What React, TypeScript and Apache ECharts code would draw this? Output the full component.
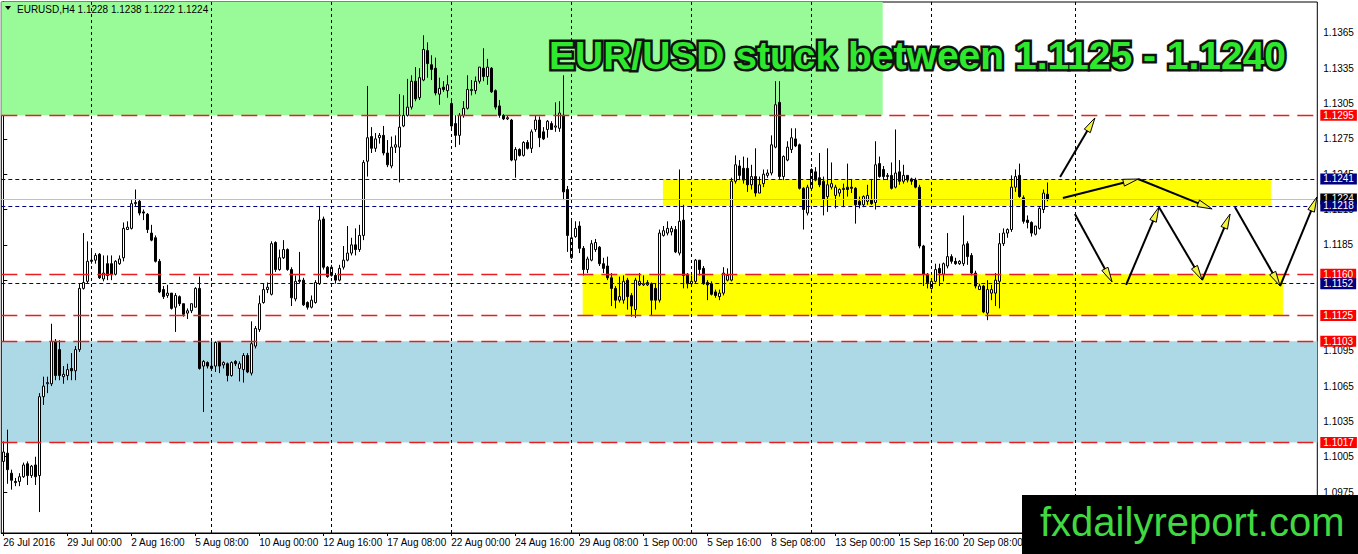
import React, { useEffect, useRef } from "react";
import * as echarts from "echarts";

// EURUSD H4 bars, 26 Jul 2016 08:00 .. 23 Sep 2016 20:00
const opens = [
  1.1001, 1.1008, 1.0991, 1.0984, 1.0984, 1.0988, 1.0999, 1.0989, 1.0998, 1.0989,
  1.1056, 1.1067, 1.1067, 1.1103, 1.1096, 1.1073, 1.1074, 1.1080, 1.1078, 1.1096,
  1.1148, 1.1154, 1.1171, 1.1172, 1.1177, 1.1156, 1.1169, 1.1169, 1.1160, 1.1169,
  1.1174, 1.1198, 1.1199, 1.1220, 1.1222, 1.1213, 1.1211, 1.1195, 1.1191, 1.1171,
  1.1147, 1.1142, 1.1144, 1.1132, 1.1141, 1.1135, 1.1127, 1.1129, 1.1132, 1.1148,
  1.1082, 1.1085, 1.1082, 1.1082, 1.1102, 1.1083, 1.1084, 1.1074, 1.1086, 1.1080,
  1.1079, 1.1091, 1.1076, 1.1099, 1.1113, 1.1136, 1.1147, 1.1143, 1.1187, 1.1164,
  1.1174, 1.1181, 1.1164, 1.1139, 1.1155, 1.1155, 1.1136, 1.1132, 1.1136, 1.1152,
  1.1207, 1.1166, 1.1159, 1.1159, 1.1155, 1.1166, 1.1172, 1.1178, 1.1185, 1.1181,
  1.1193, 1.1256, 1.1277, 1.1267, 1.1276, 1.1278, 1.1263, 1.1252, 1.1268, 1.1268,
  1.1286, 1.1295, 1.1302, 1.1324, 1.1310, 1.1325, 1.1350, 1.1338, 1.1335, 1.1313,
  1.1319, 1.1316, 1.1305, 1.1288, 1.1278, 1.1295, 1.1301, 1.1316, 1.1316, 1.1324,
  1.1335, 1.1328, 1.1335, 1.1316, 1.1303, 1.1295, 1.1292, 1.1291, 1.1257, 1.1266,
  1.1261, 1.1272, 1.1267, 1.1283, 1.1291, 1.1281, 1.1283, 1.1288, 1.1285, 1.1284,
  1.1295, 1.1232, 1.1174, 1.1192, 1.1201, 1.1182, 1.1164, 1.1172, 1.1181, 1.1183,
  1.1169, 1.1167, 1.1157, 1.1148, 1.1138, 1.1138, 1.1155, 1.1142, 1.1130, 1.1151,
  1.1151, 1.1151, 1.1152, 1.1148, 1.1138, 1.1193, 1.1195, 1.1196, 1.1198, 1.1178,
  1.1206, 1.1160, 1.1152, 1.1154, 1.1172, 1.1165, 1.1153, 1.1152, 1.1145, 1.1141,
  1.1144, 1.1155, 1.1155, 1.1239, 1.1252, 1.1250, 1.1250, 1.1236, 1.1243, 1.1229,
  1.1237, 1.1244, 1.1246, 1.1268, 1.1306, 1.1243, 1.1257, 1.1266, 1.1275, 1.1270,
  1.1233, 1.1212, 1.1233, 1.1247, 1.1242, 1.1239, 1.1226, 1.1234, 1.1227, 1.1229,
  1.1232, 1.1234, 1.1234, 1.1233, 1.1222, 1.1219, 1.1222, 1.1223, 1.1221, 1.1254,
  1.1249, 1.1243, 1.1244, 1.1234, 1.1247, 1.1239, 1.1244, 1.1241, 1.1240, 1.1234,
  1.1184, 1.1160, 1.1148, 1.1154, 1.1165, 1.1160, 1.1167, 1.1175, 1.1171, 1.1169,
  1.1169, 1.1186, 1.1176, 1.1161, 1.1147, 1.1150, 1.1127, 1.1144, 1.1144, 1.1154,
  1.1186, 1.1195, 1.1198, 1.1234, 1.1244, 1.1225, 1.1206, 1.1204, 1.1194, 1.1199,
  1.1215, 1.1228,
];

const closes = [
  1.1009, 1.0994, 1.0985, 1.0983, 1.0988, 1.0998, 1.0989, 1.0997, 1.0988, 1.1056,
  1.1065, 1.1068, 1.1103, 1.1074, 1.1074, 1.1075, 1.1079, 1.1078, 1.1096, 1.1148,
  1.1153, 1.1171, 1.1172, 1.1176, 1.1157, 1.1161, 1.1159, 1.1160, 1.1171, 1.1173,
  1.1199, 1.1200, 1.1220, 1.1221, 1.1212, 1.1212, 1.1198, 1.1189, 1.1171, 1.1145,
  1.1141, 1.1144, 1.1131, 1.1142, 1.1135, 1.1126, 1.1129, 1.1135, 1.1148, 1.1080,
  1.1086, 1.1082, 1.1080, 1.1102, 1.1082, 1.1085, 1.1074, 1.1085, 1.1084, 1.1084,
  1.1091, 1.1077, 1.1101, 1.1114, 1.1135, 1.1147, 1.1149, 1.1186, 1.1164, 1.1174,
  1.1181, 1.1164, 1.1140, 1.1154, 1.1154, 1.1134, 1.1132, 1.1138, 1.1153, 1.1206,
  1.1166, 1.1158, 1.1166, 1.1155, 1.1165, 1.1172, 1.1178, 1.1185, 1.1181, 1.1193,
  1.1255, 1.1276, 1.1267, 1.1275, 1.1278, 1.1263, 1.1253, 1.1268, 1.1270, 1.1285,
  1.1295, 1.1302, 1.1324, 1.1309, 1.1327, 1.1351, 1.1339, 1.1334, 1.1314, 1.1318,
  1.1317, 1.1321, 1.1286, 1.1278, 1.1295, 1.1301, 1.1317, 1.1317, 1.1324, 1.1336,
  1.1328, 1.1336, 1.1315, 1.1302, 1.1295, 1.1292, 1.1293, 1.1257, 1.1266, 1.1261,
  1.1272, 1.1267, 1.1281, 1.1291, 1.1276, 1.1275, 1.1290, 1.1283, 1.1286, 1.1297,
  1.1230, 1.1193, 1.1191, 1.1199, 1.1182, 1.1164, 1.1173, 1.1186, 1.1187, 1.1169,
  1.1165, 1.1157, 1.1148, 1.1138, 1.1141, 1.1154, 1.1141, 1.1133, 1.1155, 1.1154,
  1.1152, 1.1153, 1.1138, 1.1138, 1.1195, 1.1197, 1.1199, 1.1199, 1.1179, 1.1205,
  1.1159, 1.1152, 1.1154, 1.1172, 1.1164, 1.1152, 1.1151, 1.1143, 1.1142, 1.1144,
  1.1161, 1.1159, 1.1239, 1.1253, 1.1244, 1.1240, 1.1236, 1.1243, 1.1229, 1.1236,
  1.1245, 1.1246, 1.1270, 1.1304, 1.1243, 1.1260, 1.1268, 1.1276, 1.1269, 1.1233,
  1.1215, 1.1234, 1.1249, 1.1240, 1.1236, 1.1224, 1.1236, 1.1237, 1.1234, 1.1232,
  1.1233, 1.1232, 1.1233, 1.1219, 1.1219, 1.1226, 1.1227, 1.1220, 1.1253, 1.1243,
  1.1243, 1.1244, 1.1233, 1.1246, 1.1239, 1.1244, 1.1240, 1.1239, 1.1234, 1.1184,
  1.1160, 1.1153, 1.1154, 1.1164, 1.1161, 1.1169, 1.1175, 1.1171, 1.1169, 1.1171,
  1.1185, 1.1175, 1.1161, 1.1150, 1.1150, 1.1128, 1.1147, 1.1147, 1.1155, 1.1186,
  1.1195, 1.1198, 1.1234, 1.1243, 1.1226, 1.1205, 1.1204, 1.1195, 1.1201, 1.1216,
  1.1229, 1.1224,
];

const lows = [
  1.0994, 1.0982, 1.0977, 1.0980, 1.0980, 1.0987, 1.0981, 1.0987, 1.0981, 1.0958,
  1.1049, 1.1059, 1.1065, 1.1070, 1.1070, 1.1067, 1.1070, 1.1070, 1.1070, 1.1094,
  1.1147, 1.1152, 1.1169, 1.1169, 1.1156, 1.1154, 1.1155, 1.1155, 1.1159, 1.1168,
  1.1171, 1.1198, 1.1198, 1.1218, 1.1210, 1.1206, 1.1195, 1.1188, 1.1170, 1.1144,
  1.1139, 1.1140, 1.1130, 1.1111, 1.1133, 1.1124, 1.1122, 1.1127, 1.1132, 1.1079,
  1.1043, 1.1080, 1.1079, 1.1077, 1.1076, 1.1080, 1.1069, 1.1073, 1.1082, 1.1069,
  1.1068, 1.1076, 1.1074, 1.1097, 1.1111, 1.1135, 1.1144, 1.1142, 1.1162, 1.1163,
  1.1173, 1.1163, 1.1133, 1.1137, 1.1152, 1.1133, 1.1130, 1.1131, 1.1135, 1.1151,
  1.1164, 1.1157, 1.1158, 1.1152, 1.1154, 1.1164, 1.1171, 1.1176, 1.1176, 1.1179,
  1.1189, 1.1243, 1.1263, 1.1264, 1.1271, 1.1261, 1.1251, 1.1250, 1.1263, 1.1238,
  1.1285, 1.1294, 1.1300, 1.1307, 1.1308, 1.1324, 1.1327, 1.1325, 1.1312, 1.1304,
  1.1315, 1.1310, 1.1284, 1.1268, 1.1270, 1.1293, 1.1300, 1.1312, 1.1313, 1.1322,
  1.1324, 1.1321, 1.1314, 1.1300, 1.1293, 1.1291, 1.1291, 1.1256, 1.1242, 1.1260,
  1.1260, 1.1266, 1.1263, 1.1281, 1.1268, 1.1274, 1.1276, 1.1283, 1.1281, 1.1281,
  1.1223, 1.1179, 1.1173, 1.1191, 1.1178, 1.1159, 1.1161, 1.1171, 1.1179, 1.1167,
  1.1161, 1.1155, 1.1133, 1.1131, 1.1136, 1.1135, 1.1130, 1.1124, 1.1123, 1.1150,
  1.1150, 1.1150, 1.1125, 1.1130, 1.1136, 1.1192, 1.1193, 1.1193, 1.1178, 1.1176,
  1.1148, 1.1148, 1.1151, 1.1152, 1.1159, 1.1151, 1.1138, 1.1142, 1.1140, 1.1138,
  1.1142, 1.1154, 1.1154, 1.1237, 1.1240, 1.1237, 1.1230, 1.1232, 1.1226, 1.1229,
  1.1234, 1.1242, 1.1244, 1.1267, 1.1241, 1.1240, 1.1256, 1.1263, 1.1268, 1.1232,
  1.1198, 1.1210, 1.1232, 1.1239, 1.1234, 1.1210, 1.1213, 1.1232, 1.1216, 1.1226,
  1.1217, 1.1226, 1.1229, 1.1203, 1.1216, 1.1217, 1.1219, 1.1219, 1.1215, 1.1242,
  1.1240, 1.1240, 1.1232, 1.1233, 1.1236, 1.1237, 1.1238, 1.1236, 1.1233, 1.1182,
  1.1150, 1.1148, 1.1147, 1.1153, 1.1150, 1.1154, 1.1165, 1.1169, 1.1168, 1.1168,
  1.1167, 1.1168, 1.1159, 1.1148, 1.1147, 1.1127, 1.1121, 1.1138, 1.1133, 1.1131,
  1.1184, 1.1191, 1.1196, 1.1230, 1.1225, 1.1203, 1.1199, 1.1192, 1.1193, 1.1198,
  1.1212, 1.1222,
];

const highs = [
  1.1018, 1.1028, 1.0994, 1.0987, 1.0991, 1.1000, 1.1001, 1.0998, 1.1005, 1.1059,
  1.1073, 1.1073, 1.1118, 1.1105, 1.1104, 1.1082, 1.1084, 1.1093, 1.1099, 1.1152,
  1.1195, 1.1188, 1.1182, 1.1178, 1.1178, 1.1176, 1.1176, 1.1176, 1.1172, 1.1176,
  1.1204, 1.1205, 1.1223, 1.1232, 1.1224, 1.1215, 1.1212, 1.1202, 1.1193, 1.1173,
  1.1150, 1.1151, 1.1144, 1.1144, 1.1142, 1.1135, 1.1131, 1.1135, 1.1149, 1.1158,
  1.1087, 1.1086, 1.1103, 1.1103, 1.1103, 1.1086, 1.1085, 1.1086, 1.1087, 1.1086,
  1.1093, 1.1093, 1.1120, 1.1116, 1.1142, 1.1152, 1.1153, 1.1188, 1.1188, 1.1181,
  1.1189, 1.1182, 1.1166, 1.1159, 1.1179, 1.1157, 1.1137, 1.1142, 1.1155, 1.1218,
  1.1209, 1.1167, 1.1168, 1.1161, 1.1168, 1.1184, 1.1201, 1.1191, 1.1199, 1.1202,
  1.1257, 1.1320, 1.1285, 1.1280, 1.1280, 1.1286, 1.1274, 1.1277, 1.1278, 1.1313,
  1.1312, 1.1326, 1.1329, 1.1336, 1.1335, 1.1363, 1.1357, 1.1346, 1.1344, 1.1327,
  1.1324, 1.1329, 1.1307, 1.1295, 1.1297, 1.1307, 1.1329, 1.1325, 1.1328, 1.1336,
  1.1352, 1.1343, 1.1336, 1.1317, 1.1308, 1.1296, 1.1295, 1.1292, 1.1268, 1.1267,
  1.1273, 1.1274, 1.1283, 1.1295, 1.1294, 1.1285, 1.1291, 1.1290, 1.1306, 1.1307,
  1.1329, 1.1235, 1.1207, 1.1205, 1.1205, 1.1184, 1.1175, 1.1189, 1.1190, 1.1184,
  1.1174, 1.1175, 1.1161, 1.1150, 1.1158, 1.1159, 1.1157, 1.1144, 1.1157, 1.1161,
  1.1159, 1.1155, 1.1153, 1.1152, 1.1198, 1.1201, 1.1205, 1.1201, 1.1201, 1.1249,
  1.1219, 1.1161, 1.1159, 1.1173, 1.1172, 1.1167, 1.1155, 1.1154, 1.1147, 1.1147,
  1.1166, 1.1165, 1.1242, 1.1261, 1.1257, 1.1260, 1.1259, 1.1253, 1.1267, 1.1243,
  1.1249, 1.1249, 1.1278, 1.1324, 1.1324, 1.1261, 1.1273, 1.1284, 1.1284, 1.1271,
  1.1234, 1.1236, 1.1250, 1.1251, 1.1263, 1.1243, 1.1267, 1.1255, 1.1236, 1.1233,
  1.1237, 1.1254, 1.1241, 1.1234, 1.1226, 1.1227, 1.1236, 1.1241, 1.1273, 1.1260,
  1.1252, 1.1246, 1.1255, 1.1283, 1.1257, 1.1253, 1.1244, 1.1242, 1.1242, 1.1236,
  1.1185, 1.1161, 1.1155, 1.1169, 1.1169, 1.1170, 1.1195, 1.1177, 1.1174, 1.1172,
  1.1210, 1.1188, 1.1178, 1.1163, 1.1152, 1.1151, 1.1155, 1.1151, 1.1161, 1.1195,
  1.1199, 1.1199, 1.1244, 1.1249, 1.1254, 1.1227, 1.1210, 1.1205, 1.1201, 1.1217,
  1.1232, 1.1238,
];

// time-axis labels, one every 16 bars
const dateLabels = [
  "26 Jul 2016", "29 Jul 00:00", "2 Aug 16:00", "5 Aug 08:00", "10 Aug 00:00",
  "12 Aug 16:00", "17 Aug 08:00", "22 Aug 00:00", "24 Aug 16:00", "29 Aug 08:00",
  "1 Sep 00:00", "5 Sep 16:00", "8 Sep 08:00", "13 Sep 00:00", "15 Sep 16:00",
  "20 Sep 08:00",
];

// price scale labels
const priceTicks = [
  1.0975, 1.1005, 1.1035, 1.1065, 1.1095, 1.1125, 1.1155, 1.1185, 1.1215,
  1.1245, 1.1275, 1.1305, 1.1335, 1.1365,
];

const supportResistance = [1.1295, 1.116, 1.1125, 1.1103, 1.1017];
const rangeLines = [1.1241, 1.1218, 1.1152];
const lastPrice = 1.1224;

// week separators (bar positions)
const weekSeparators = [22, 52, 82, 112, 142, 172, 202, 232, 268.1];

// zones: [fromBar, toBar, lowPrice, highPrice]
const zoneSell = [-0.5, 219.85, 1.1295, 1.13913];
const zoneBuy = [-0.3, 328.5, 1.1017, 1.1103];
const zoneUpperRange = [164.9, 316.9, 1.1218, 1.1241];
const zoneLowerRange = [144.85, 319.9, 1.1125, 1.116];

// scenario arrows: [fromBar, fromPrice, toBar, toPrice]
const scenarioArrows = [
  [264.2, 1.12426, 272.9, 1.12928],
  [264.9, 1.12248, 283.7, 1.12409],
  [283.7, 1.12409, 302.2, 1.12155],
  [267.9, 1.12112, 277.2, 1.11534],
  [280.7, 1.11509, 288.9, 1.12171],
  [288.9, 1.12171, 299.7, 1.11551],
  [299.7, 1.11551, 306.7, 1.12112],
  [307.9, 1.12171, 319.2, 1.115],
  [319.2, 1.115, 328.4, 1.12257],
];

const SLOTS = 329;
const PRICE_MIN = 1.09402;
const PRICE_MAX = 1.13913;
const FONT = '"Liberation Sans", Arial, sans-serif';

export default function App() {
  const ref = useRef<HTMLDivElement>(null);

  useEffect(() => {
    if (!ref.current) return;
    const chart = echarts.init(ref.current, undefined, { renderer: "svg" });

    const slots = Array.from({ length: SLOTS }, (_, i) => String(i));
    const candles = opens.map((o, i) => [o, closes[i], lows[i], highs[i]]);
    const last = opens.length - 1;
    const zoneColors = ["#98FB98", "#ADD8E6", "#FFFF00", "#FFFF00"];

    const option: any = {
      animation: false,
      backgroundColor: "#ffffff",
      grid: {
        left: 1.3,
        top: 2,
        width: 1316,
        height: 531,
        show: true,
        borderColor: "#000",
        borderWidth: 1,
        backgroundColor: "#fff",
        outerBoundsMode: "none",
      },
      xAxis: [
        {
          type: "category",
          data: slots,
          boundaryGap: true,
          axisLine: { show: true, lineStyle: { color: "#000", width: 1 } },
          axisTick: {
            show: true,
            interval: 15,
            alignWithLabel: true,
            length: 3,
            lineStyle: { color: "#000" },
          },
          axisLabel: {
            interval: 15,
            align: "left",
            margin: 4,
            color: "#000",
            fontSize: 10,
            fontFamily: FONT,
            formatter: (_v: string, idx: number) => dateLabels[idx / 16] ?? "",
          },
          splitLine: { show: false },
        },
        {
          type: "value",
          min: -0.5,
          max: SLOTS - 0.5,
          show: false,
        },
      ],
      yAxis: {
        type: "value",
        position: "right",
        min: PRICE_MIN,
        max: PRICE_MAX,
        splitLine: { show: false },
        axisLine: { show: true, lineStyle: { color: "#000", width: 1 } },
        axisTick: {
          show: true,
          customValues: priceTicks,
          length: 4,
          lineStyle: { color: "#000" },
        },
        axisLabel: {
          customValues: priceTicks,
          margin: 6,
          color: "#000",
          fontSize: 10,
          fontFamily: FONT,
          formatter: (v: number) => v.toFixed(4),
        },
      },
      series: [
        {
          name: "zones",
          type: "custom",
          xAxisIndex: 1,
          z: 1,
          silent: true,
          data: [zoneSell, zoneBuy, zoneUpperRange, zoneLowerRange],
          encode: { x: [0, 1], y: [2, 3] },
          renderItem: (params: any, api: any) => {
            const p1 = api.coord([api.value(0), api.value(3)]);
            const p2 = api.coord([api.value(1), api.value(2)]);
            return {
              type: "rect",
              shape: { x: p1[0], y: p1[1], width: p2[0] - p1[0], height: p2[1] - p1[1] },
              style: { fill: zoneColors[params.dataIndex] },
            };
          },
        },
        {
          name: "separators",
          type: "line",
          xAxisIndex: 1,
          data: [],
          z: 2,
          silent: true,
          markLine: {
            silent: true,
            precision: 5,
            symbol: ["none", "none"],
            label: { show: false },
            lineStyle: { color: "#000", type: [3, 3], width: 1 },
            data: weekSeparators.map((v) => ({ xAxis: v })),
          },
        },
        {
          name: "levels",
          type: "line",
          xAxisIndex: 1,
          data: [],
          z: 3,
          silent: true,
          markLine: {
            silent: true,
            precision: 5,
            symbol: ["none", "none"],
            label: {
              show: true,
              position: "end",
              distance: 3,
              color: "#fff",
              fontSize: 10,
              fontFamily: FONT,
              lineHeight: 10,
              padding: [1, 3, 0, 3],
              formatter: (p: any) => Number(p.value).toFixed(4),
            },
            data: [
              ...supportResistance.map((v) => ({
                yAxis: v,
                lineStyle: { color: "#E81E1E", type: [16, 8], width: 1.4 },
                label: { backgroundColor: "#FF0000" },
              })),
              {
                yAxis: lastPrice,
                lineStyle: { color: "#C0C0C0", type: "solid", width: 1 },
                label: { backgroundColor: "#000000" },
              },
              ...rangeLines.map((v) => ({
                yAxis: v,
                lineStyle: { color: "#000080", type: [4, 3], width: 1 },
                label: { backgroundColor: "#000080" },
              })),
            ],
          },
        },
        {
          name: "EURUSD,H4",
          type: "candlestick",
          xAxisIndex: 0,
          z: 4,
          barWidth: 2,
          data: candles,
          itemStyle: {
            color: "#ffffff",
            color0: "#000000",
            borderColor: "#000000",
            borderColor0: "#000000",
            borderWidth: 1,
          },
        },
        {
          name: "scenario",
          type: "custom",
          xAxisIndex: 1,
          z: 5,
          clip: false,
          silent: true,
          data: scenarioArrows,
          encode: { x: [0, 2], y: [1, 3] },
          renderItem: (_params: any, api: any) => {
            const a = api.coord([api.value(0), api.value(1)]);
            const b = api.coord([api.value(2), api.value(3)]);
            const dx = b[0] - a[0];
            const dy = b[1] - a[1];
            const len = Math.hypot(dx, dy) || 1;
            const ux = dx / len;
            const uy = dy / len;
            const headLen = 15;
            const headHalf = 3.5;
            const bx = b[0] - ux * headLen;
            const by = b[1] - uy * headLen;
            return {
              type: "group",
              children: [
                {
                  type: "line",
                  shape: { x1: a[0], y1: a[1], x2: bx + ux * 5, y2: by + uy * 5 },
                  style: { stroke: "#000", lineWidth: 2 },
                },
                {
                  type: "polygon",
                  shape: {
                    points: [
                      [b[0], b[1]],
                      [bx - uy * headHalf, by + ux * headHalf],
                      [bx + uy * headHalf, by - ux * headHalf],
                    ],
                  },
                  style: { fill: "#F3F33C", stroke: "#000", lineWidth: 1 },
                },
              ],
            };
          },
        },
      ],
      graphic: [
        {
          type: "polygon",
          z: 100,
          shape: { points: [[5, 6], [11, 6], [8, 10]] },
          style: { fill: "#000" },
        },
        {
          type: "text",
          z: 100,
          x: 17,
          y: 9,
          style: {
            text: `EURUSD,H4 ${opens[last].toFixed(4)} ${highs[last].toFixed(4)} ${lows[last].toFixed(4)} ${closes[last].toFixed(4)}`,
            fill: "#000",
            font: `10px ${FONT}`,
            verticalAlign: "middle",
          },
        },
        {
          type: "text",
          z: 100,
          x: 549,
          y: 55,
          style: {
            text: "EUR/USD stuck between 1.1125 - 1.1240",
            font: `bold 39px ${FONT}`,
            fill: "#2DE82D",
            stroke: "#111",
            lineWidth: 5,
            verticalAlign: "middle",
          },
        },
        {
          type: "rect",
          z: 100,
          shape: { x: 1022, y: 495, width: 336, height: 59 },
          style: { fill: "#000" },
        },
        {
          type: "text",
          z: 101,
          x: 1040,
          y: 522,
          style: {
            text: "fxdailyreport.com",
            font: `40px ${FONT}`,
            fill: "#41D941",
            verticalAlign: "middle",
          },
        },
      ],
    };

    chart.setOption(option);
    return () => chart.dispose();
  }, []);

  return (
    <div
      ref={ref}
      style={{ position: "absolute", left: 0, top: 0, width: 1358, height: 554 }}
    />
  );
}
